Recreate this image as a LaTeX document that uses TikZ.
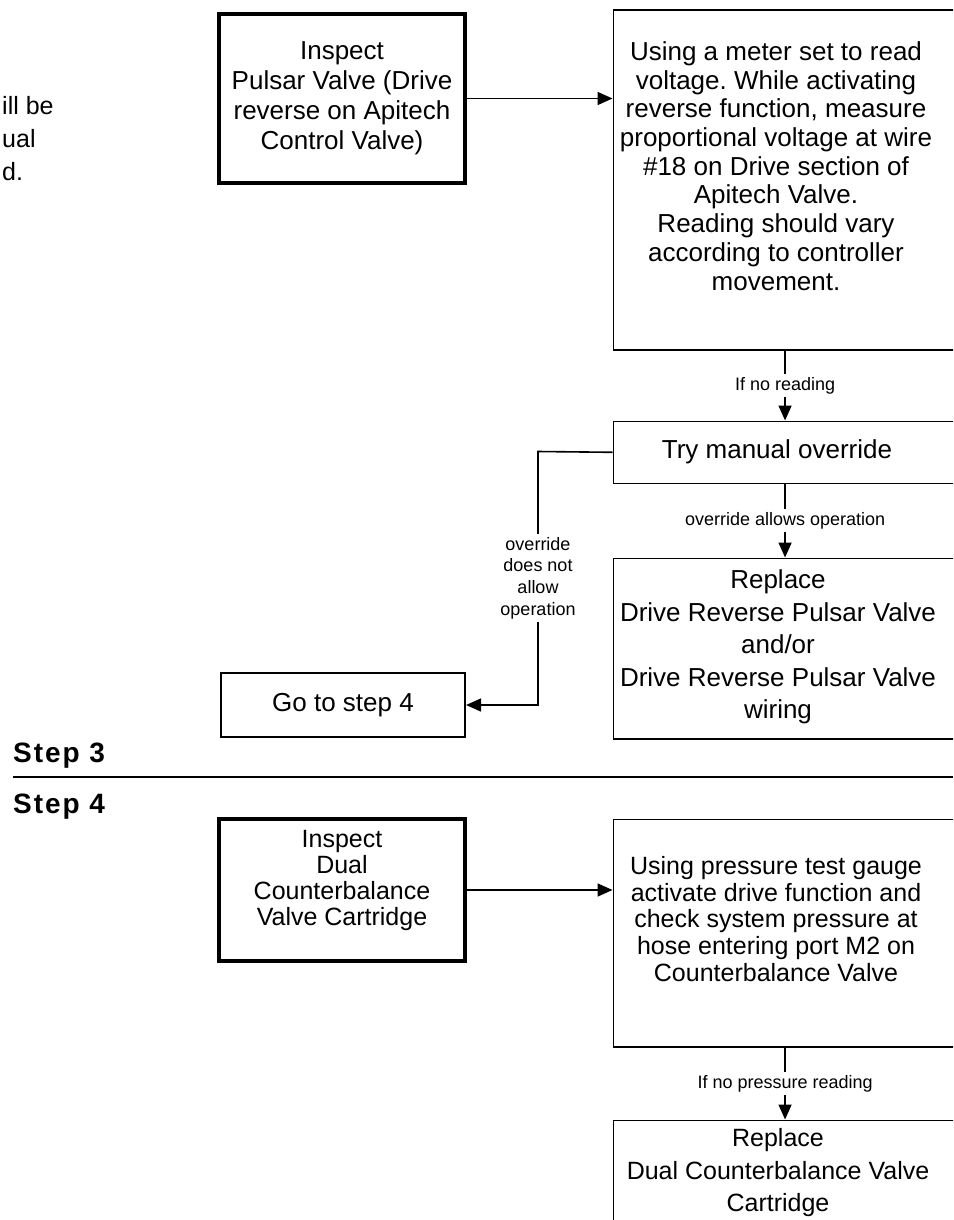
\documentclass[tikz,border=0pt]{standalone}
\usepackage{fontspec}
\setmainfont{Liberation Sans}
\newfontfamily\headfamily[LetterSpace=7]{Liberation Sans}
\usetikzlibrary{arrows.meta}

% type sizes: body text of both steps, connector labels, step headings
\newcommand\sizeA[1]{\fontsize{26}{#1}\selectfont}
\newcommand\sizeB[1]{\fontsize{25}{#1}\selectfont}
\newcommand\sizeLbl{\fontsize{18}{21.7}\selectfont}
\newcommand\sizeHead{\headfamily\fontsize{28}{32}\selectfont\bfseries}

\begin{document}
\frenchspacing
\begin{tikzpicture}[x=1pt,y=-1pt,
  stepbox/.style={draw,line width=1.6pt,inner sep=0pt,anchor=north west,minimum width=343.5pt},
  inspbox/.style={draw,line width=4pt,inner sep=0pt,minimum width=246pt},
  plainbox/.style={draw,line width=1.6pt,inner sep=0pt},
  txt/.style={inner sep=0pt,align=center},
  conn/.style={line width=1.6pt,-{Triangle[length=15pt,width=13pt]}},
  lbl/.style={fill=white,inner sep=3pt,align=center,font=\sizeLbl},
  head/.style={anchor=base west,inner sep=0pt,font=\sizeHead},
  rule/.style={line width=1.5pt}]

\useasboundingbox (0,0) rectangle (953,1220);
\clip (0,0) rectangle (953,1220);

% text running in from the left margin
\node[anchor=base west,inner sep=0pt,font=\sizeB{30}] (m1) at (2,115) {ill be};
\node[anchor=base west,inner sep=0pt,font=\sizeB{30}] (m2) at (2,147) {ual};
\node[anchor=base west,inner sep=0pt,font=\sizeB{30}] (m3) at (2,180) {d.};

% ---------------- Step 3 ----------------
\node[inspbox,minimum height=169pt,txt,font=\sizeA{30}] (ins1) at (342,98.5)
  {Inspect\\Pulsar Valve (Drive\\reverse on Apitech\\Control Valve)};

\node[stepbox,minimum height=339.5pt] (chk1) at (612.5,9.5) {};
\node[txt,font=\sizeA{28.7}] (chk1t) at (776,166)
  {Using a meter set to read\\voltage. While activating\\reverse function, measure\\proportional voltage at wire\\\#18 on Drive section of\\Apitech Valve.\\Reading should vary\\according to controller\\movement.};

\node[stepbox,minimum height=62pt] (try) at (612.5,420.5) {};
\node[txt,font=\sizeA{30}] (tryt) at (777,451.5) {Try manual override};

\node[stepbox,minimum height=180.5pt] (repl1) at (612.5,557.5) {};
\node[txt,font=\sizeA{32.5}] (repl1t) at (778,647)
  {Replace\\Drive Reverse Pulsar Valve\\and/or\\Drive Reverse Pulsar Valve\\wiring};

\node[plainbox,minimum width=244.5pt,minimum height=64.5pt,font=\sizeA{30}] (go4) at (343,705) {Go to step 4};

\coordinate (bend) at (538,451.5);

\draw[conn] (ins1.east) -- (ins1.east -| chk1.west);
\draw[conn] (chk1.south) -- node[lbl] {If no reading} (try.north);
\draw[conn] (try.south) -- node[lbl] {override allows operation} (repl1.north);
\draw[conn] (try.west) -- (bend) |- (go4.east);
\node[lbl] (nolbl) at (538,578) {override\\does not\\allow\\operation};

% section divider
\coordinate (ruleL) at (13,777);
\coordinate (ruleR) at (953,777);
\draw[rule] (ruleL) -- (ruleR);
\node[head] (h3) at (13,762) {Step 3};
\node[head] (h4) at (13,813) {Step 4};

% ---------------- Step 4 ----------------
\node[inspbox,minimum height=142pt] (ins2) at (342,890) {};
\node[txt,font=\sizeB{26}] (ins2t) at (342,880)
  {Inspect\\Dual\\Counterbalance\\Valve Cartridge};

\node[stepbox,minimum height=227.5pt] (chk2) at (612.5,818.5) {};
\node[txt,font=\sizeB{26.7}] (chk2t) at (776,919)
  {Using pressure test gauge\\activate drive function and\\check system pressure at\\hose entering port M2 on\\Counterbalance Valve};

\node[stepbox,minimum height=150pt] (repl2) at (612.5,1119.5) {};
\node[txt,font=\sizeB{32.5}] (repl2t) at (778,1173)
  {Replace\\Dual Counterbalance Valve\\Cartridge};

\draw[conn] (ins2.east) -- (ins2.east -| chk2.west);
\draw[conn] (chk2.south) -- node[lbl] {If no pressure reading} (repl2.north);

\end{tikzpicture}
\end{document}
